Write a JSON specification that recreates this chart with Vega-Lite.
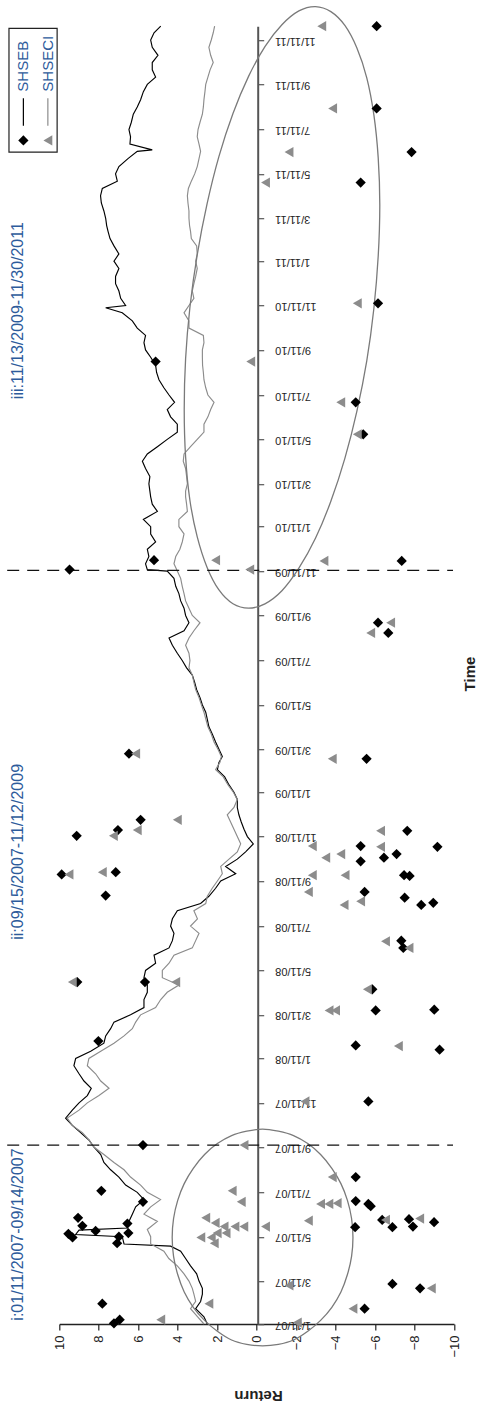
{
"$schema": "https://vega.github.io/schema/vega-lite/v6.json",
"width": 394.7,
"height": 1297.8,
"autosize": {"type": "none"},
"padding": {"left": 59.3, "top": 26.2, "right": 23, "bottom": 86},
"background": "white",
"config": {"view": {"stroke": null}, "axis": {"grid": false, "labelFont": "Liberation Sans", "titleFont": "Liberation Sans"}, "text": {"font": "Liberation Sans"}},
"datasets": {
"lines": [
{"date":"2007-01-11","ret":2.5,"series":"SHSEB"},{"date":"2007-01-21","ret":2.67,"series":"SHSEB"},{"date":"2007-02-01","ret":3.09,"series":"SHSEB"},{"date":"2007-02-11","ret":2.84,"series":"SHSEB"},{"date":"2007-02-21","ret":2.75,"series":"SHSEB"},{"date":"2007-03-01","ret":2.75,"series":"SHSEB"},{"date":"2007-03-11","ret":2.92,"series":"SHSEB"},{"date":"2007-03-21","ret":3.04,"series":"SHSEB"},{"date":"2007-04-01","ret":3.35,"series":"SHSEB"},{"date":"2007-04-11","ret":3.6,"series":"SHSEB"},{"date":"2007-04-21","ret":3.85,"series":"SHSEB"},{"date":"2007-04-28","ret":4.36,"series":"SHSEB"},{"date":"2007-05-01","ret":6.72,"series":"SHSEB"},{"date":"2007-05-11","ret":6.81,"series":"SHSEB"},{"date":"2007-05-14","ret":9.17,"series":"SHSEB"},{"date":"2007-05-20","ret":9.0,"series":"SHSEB"},{"date":"2007-05-23","ret":6.55,"series":"SHSEB"},{"date":"2007-06-01","ret":6.47,"series":"SHSEB"},{"date":"2007-06-11","ret":6.3,"series":"SHSEB"},{"date":"2007-06-21","ret":6.13,"series":"SHSEB"},{"date":"2007-07-01","ret":5.71,"series":"SHSEB"},{"date":"2007-07-11","ret":6.05,"series":"SHSEB"},{"date":"2007-07-21","ret":6.64,"series":"SHSEB"},{"date":"2007-08-01","ret":6.98,"series":"SHSEB"},{"date":"2007-08-11","ret":7.4,"series":"SHSEB"},{"date":"2007-08-21","ret":7.74,"series":"SHSEB"},{"date":"2007-09-01","ret":7.9,"series":"SHSEB"},{"date":"2007-09-11","ret":8.24,"series":"SHSEB"},{"date":"2007-09-21","ret":8.5,"series":"SHSEB"},{"date":"2007-10-01","ret":8.92,"series":"SHSEB"},{"date":"2007-10-11","ret":9.34,"series":"SHSEB"},{"date":"2007-10-21","ret":9.68,"series":"SHSEB"},{"date":"2007-11-01","ret":9.34,"series":"SHSEB"},{"date":"2007-11-11","ret":9.0,"series":"SHSEB"},{"date":"2007-11-21","ret":8.58,"series":"SHSEB"},{"date":"2007-12-01","ret":8.38,"series":"SHSEB"},{"date":"2007-12-11","ret":8.75,"series":"SHSEB"},{"date":"2007-12-21","ret":9.0,"series":"SHSEB"},{"date":"2008-01-01","ret":9.26,"series":"SHSEB"},{"date":"2008-01-11","ret":9.17,"series":"SHSEB"},{"date":"2008-01-21","ret":8.41,"series":"SHSEB"},{"date":"2008-02-01","ret":7.74,"series":"SHSEB"},{"date":"2008-02-11","ret":7.65,"series":"SHSEB"},{"date":"2008-02-21","ret":7.4,"series":"SHSEB"},{"date":"2008-03-01","ret":7.23,"series":"SHSEB"},{"date":"2008-03-11","ret":6.39,"series":"SHSEB"},{"date":"2008-03-21","ret":5.71,"series":"SHSEB"},{"date":"2008-04-01","ret":5.71,"series":"SHSEB"},{"date":"2008-04-11","ret":5.54,"series":"SHSEB"},{"date":"2008-04-21","ret":5.54,"series":"SHSEB"},{"date":"2008-05-01","ret":5.71,"series":"SHSEB"},{"date":"2008-05-11","ret":5.63,"series":"SHSEB"},{"date":"2008-05-21","ret":5.12,"series":"SHSEB"},{"date":"2008-06-01","ret":5.2,"series":"SHSEB"},{"date":"2008-06-11","ret":4.44,"series":"SHSEB"},{"date":"2008-06-21","ret":4.27,"series":"SHSEB"},{"date":"2008-07-01","ret":4.19,"series":"SHSEB"},{"date":"2008-07-11","ret":4.36,"series":"SHSEB"},{"date":"2008-07-21","ret":4.27,"series":"SHSEB"},{"date":"2008-08-01","ret":4.02,"series":"SHSEB"},{"date":"2008-08-11","ret":2.84,"series":"SHSEB"},{"date":"2008-08-21","ret":2.42,"series":"SHSEB"},{"date":"2008-09-01","ret":2.08,"series":"SHSEB"},{"date":"2008-09-11","ret":1.82,"series":"SHSEB"},{"date":"2008-09-21","ret":1.06,"series":"SHSEB"},{"date":"2008-10-01","ret":1.57,"series":"SHSEB"},{"date":"2008-10-11","ret":0.98,"series":"SHSEB"},{"date":"2008-10-21","ret":0.56,"series":"SHSEB"},{"date":"2008-11-01","ret":0.17,"series":"SHSEB"},{"date":"2008-11-11","ret":0.47,"series":"SHSEB"},{"date":"2008-11-21","ret":0.64,"series":"SHSEB"},{"date":"2008-12-01","ret":0.78,"series":"SHSEB"},{"date":"2008-12-11","ret":0.9,"series":"SHSEB"},{"date":"2008-12-21","ret":0.98,"series":"SHSEB"},{"date":"2009-01-01","ret":0.98,"series":"SHSEB"},{"date":"2009-01-11","ret":1.15,"series":"SHSEB"},{"date":"2009-01-21","ret":1.4,"series":"SHSEB"},{"date":"2009-02-01","ret":1.62,"series":"SHSEB"},{"date":"2009-02-11","ret":1.99,"series":"SHSEB"},{"date":"2009-02-21","ret":1.91,"series":"SHSEB"},{"date":"2009-03-01","ret":1.74,"series":"SHSEB"},{"date":"2009-03-11","ret":1.91,"series":"SHSEB"},{"date":"2009-03-21","ret":2.08,"series":"SHSEB"},{"date":"2009-04-01","ret":2.25,"series":"SHSEB"},{"date":"2009-04-11","ret":2.42,"series":"SHSEB"},{"date":"2009-04-21","ret":2.5,"series":"SHSEB"},{"date":"2009-05-01","ret":2.58,"series":"SHSEB"},{"date":"2009-05-11","ret":2.75,"series":"SHSEB"},{"date":"2009-05-21","ret":2.87,"series":"SHSEB"},{"date":"2009-06-01","ret":3.04,"series":"SHSEB"},{"date":"2009-06-11","ret":3.14,"series":"SHSEB"},{"date":"2009-06-21","ret":3.26,"series":"SHSEB"},{"date":"2009-07-01","ret":3.55,"series":"SHSEB"},{"date":"2009-07-11","ret":3.77,"series":"SHSEB"},{"date":"2009-07-21","ret":4.02,"series":"SHSEB"},{"date":"2009-08-01","ret":4.27,"series":"SHSEB"},{"date":"2009-08-11","ret":4.44,"series":"SHSEB"},{"date":"2009-08-21","ret":3.68,"series":"SHSEB"},{"date":"2009-09-01","ret":3.43,"series":"SHSEB"},{"date":"2009-09-11","ret":3.6,"series":"SHSEB"},{"date":"2009-09-21","ret":3.68,"series":"SHSEB"},{"date":"2009-10-01","ret":3.85,"series":"SHSEB"},{"date":"2009-10-11","ret":3.94,"series":"SHSEB"},{"date":"2009-10-21","ret":4.1,"series":"SHSEB"},{"date":"2009-11-01","ret":4.19,"series":"SHSEB"},{"date":"2009-11-11","ret":4.53,"series":"SHSEB"},{"date":"2009-11-13","ret":5.54,"series":"SHSEB"},{"date":"2009-11-21","ret":5.63,"series":"SHSEB"},{"date":"2009-12-01","ret":5.46,"series":"SHSEB"},{"date":"2009-12-11","ret":5.54,"series":"SHSEB"},{"date":"2009-12-21","ret":5.12,"series":"SHSEB"},{"date":"2010-01-01","ret":5.37,"series":"SHSEB"},{"date":"2010-01-11","ret":5.37,"series":"SHSEB"},{"date":"2010-01-21","ret":5.74,"series":"SHSEB"},{"date":"2010-02-01","ret":5.03,"series":"SHSEB"},{"date":"2010-02-11","ret":5.29,"series":"SHSEB"},{"date":"2010-02-21","ret":5.37,"series":"SHSEB"},{"date":"2010-03-01","ret":5.41,"series":"SHSEB"},{"date":"2010-03-11","ret":5.46,"series":"SHSEB"},{"date":"2010-03-21","ret":5.41,"series":"SHSEB"},{"date":"2010-04-01","ret":5.63,"series":"SHSEB"},{"date":"2010-04-11","ret":5.79,"series":"SHSEB"},{"date":"2010-04-21","ret":5.54,"series":"SHSEB"},{"date":"2010-05-01","ret":5.03,"series":"SHSEB"},{"date":"2010-05-11","ret":4.53,"series":"SHSEB"},{"date":"2010-05-21","ret":4.02,"series":"SHSEB"},{"date":"2010-06-01","ret":4.02,"series":"SHSEB"},{"date":"2010-06-11","ret":4.36,"series":"SHSEB"},{"date":"2010-06-21","ret":4.53,"series":"SHSEB"},{"date":"2010-07-01","ret":4.16,"series":"SHSEB"},{"date":"2010-07-11","ret":4.44,"series":"SHSEB"},{"date":"2010-07-21","ret":4.7,"series":"SHSEB"},{"date":"2010-08-01","ret":4.95,"series":"SHSEB"},{"date":"2010-08-11","ret":5.07,"series":"SHSEB"},{"date":"2010-08-21","ret":5.12,"series":"SHSEB"},{"date":"2010-09-01","ret":5.37,"series":"SHSEB"},{"date":"2010-09-11","ret":5.63,"series":"SHSEB"},{"date":"2010-09-21","ret":5.71,"series":"SHSEB"},{"date":"2010-10-01","ret":5.63,"series":"SHSEB"},{"date":"2010-10-11","ret":6.05,"series":"SHSEB"},{"date":"2010-10-21","ret":6.3,"series":"SHSEB"},{"date":"2010-11-01","ret":6.81,"series":"SHSEB"},{"date":"2010-11-08","ret":7.65,"series":"SHSEB"},{"date":"2010-11-11","ret":6.64,"series":"SHSEB"},{"date":"2010-11-21","ret":6.89,"series":"SHSEB"},{"date":"2010-12-01","ret":6.98,"series":"SHSEB"},{"date":"2010-12-11","ret":7.15,"series":"SHSEB"},{"date":"2010-12-21","ret":7.15,"series":"SHSEB"},{"date":"2011-01-01","ret":6.98,"series":"SHSEB"},{"date":"2011-01-11","ret":7.23,"series":"SHSEB"},{"date":"2011-01-21","ret":6.98,"series":"SHSEB"},{"date":"2011-02-01","ret":7.23,"series":"SHSEB"},{"date":"2011-02-11","ret":7.43,"series":"SHSEB"},{"date":"2011-02-21","ret":7.53,"series":"SHSEB"},{"date":"2011-03-01","ret":7.6,"series":"SHSEB"},{"date":"2011-03-11","ret":7.65,"series":"SHSEB"},{"date":"2011-03-21","ret":7.74,"series":"SHSEB"},{"date":"2011-04-01","ret":7.87,"series":"SHSEB"},{"date":"2011-04-11","ret":7.91,"series":"SHSEB"},{"date":"2011-04-21","ret":7.82,"series":"SHSEB"},{"date":"2011-05-01","ret":7.06,"series":"SHSEB"},{"date":"2011-05-11","ret":7.15,"series":"SHSEB"},{"date":"2011-05-21","ret":6.98,"series":"SHSEB"},{"date":"2011-06-01","ret":6.52,"series":"SHSEB"},{"date":"2011-06-11","ret":6.05,"series":"SHSEB"},{"date":"2011-06-13","ret":5.29,"series":"SHSEB"},{"date":"2011-06-21","ret":6.42,"series":"SHSEB"},{"date":"2011-07-01","ret":6.39,"series":"SHSEB"},{"date":"2011-07-11","ret":6.47,"series":"SHSEB"},{"date":"2011-07-21","ret":6.35,"series":"SHSEB"},{"date":"2011-08-01","ret":6.25,"series":"SHSEB"},{"date":"2011-08-11","ret":6.05,"series":"SHSEB"},{"date":"2011-08-21","ret":5.88,"series":"SHSEB"},{"date":"2011-09-01","ret":5.74,"series":"SHSEB"},{"date":"2011-09-11","ret":5.54,"series":"SHSEB"},{"date":"2011-09-21","ret":5.12,"series":"SHSEB"},{"date":"2011-10-01","ret":5.29,"series":"SHSEB"},{"date":"2011-10-11","ret":5.29,"series":"SHSEB"},{"date":"2011-10-21","ret":5.0,"series":"SHSEB"},{"date":"2011-11-01","ret":5.29,"series":"SHSEB"},{"date":"2011-11-11","ret":5.37,"series":"SHSEB"},{"date":"2011-11-21","ret":5.2,"series":"SHSEB"},{"date":"2011-11-30","ret":4.86,"series":"SHSEB"},
{"date":"2007-01-11","ret":2.67,"series":"SHSECI"},{"date":"2007-01-21","ret":3.0,"series":"SHSECI"},{"date":"2007-02-01","ret":3.35,"series":"SHSECI"},{"date":"2007-02-11","ret":3.09,"series":"SHSECI"},{"date":"2007-02-21","ret":3.18,"series":"SHSECI"},{"date":"2007-03-01","ret":3.26,"series":"SHSECI"},{"date":"2007-03-11","ret":3.43,"series":"SHSECI"},{"date":"2007-03-21","ret":3.68,"series":"SHSECI"},{"date":"2007-04-01","ret":4.02,"series":"SHSECI"},{"date":"2007-04-11","ret":4.45,"series":"SHSECI"},{"date":"2007-04-21","ret":4.7,"series":"SHSECI"},{"date":"2007-05-01","ret":5.37,"series":"SHSECI"},{"date":"2007-05-11","ret":5.37,"series":"SHSECI"},{"date":"2007-05-21","ret":5.54,"series":"SHSECI"},{"date":"2007-06-01","ret":5.03,"series":"SHSECI"},{"date":"2007-06-11","ret":5.71,"series":"SHSECI"},{"date":"2007-06-21","ret":5.37,"series":"SHSECI"},{"date":"2007-07-01","ret":4.87,"series":"SHSECI"},{"date":"2007-07-11","ret":5.54,"series":"SHSECI"},{"date":"2007-07-21","ret":5.88,"series":"SHSECI"},{"date":"2007-08-01","ret":6.39,"series":"SHSECI"},{"date":"2007-08-11","ret":6.72,"series":"SHSECI"},{"date":"2007-08-21","ret":7.23,"series":"SHSECI"},{"date":"2007-09-01","ret":7.74,"series":"SHSECI"},{"date":"2007-09-11","ret":8.24,"series":"SHSECI"},{"date":"2007-09-21","ret":8.5,"series":"SHSECI"},{"date":"2007-10-01","ret":8.83,"series":"SHSECI"},{"date":"2007-10-11","ret":9.34,"series":"SHSECI"},{"date":"2007-10-21","ret":9.6,"series":"SHSECI"},{"date":"2007-11-01","ret":9.0,"series":"SHSECI"},{"date":"2007-11-11","ret":8.58,"series":"SHSECI"},{"date":"2007-11-21","ret":7.99,"series":"SHSECI"},{"date":"2007-12-01","ret":7.48,"series":"SHSECI"},{"date":"2007-12-11","ret":7.9,"series":"SHSECI"},{"date":"2007-12-21","ret":8.16,"series":"SHSECI"},{"date":"2008-01-01","ret":8.58,"series":"SHSECI"},{"date":"2008-01-11","ret":8.5,"series":"SHSECI"},{"date":"2008-01-21","ret":7.9,"series":"SHSECI"},{"date":"2008-02-01","ret":7.23,"series":"SHSECI"},{"date":"2008-02-11","ret":6.72,"series":"SHSECI"},{"date":"2008-02-21","ret":6.3,"series":"SHSECI"},{"date":"2008-03-01","ret":6.13,"series":"SHSECI"},{"date":"2008-03-11","ret":5.88,"series":"SHSECI"},{"date":"2008-03-21","ret":5.12,"series":"SHSECI"},{"date":"2008-04-01","ret":4.86,"series":"SHSECI"},{"date":"2008-04-11","ret":4.53,"series":"SHSECI"},{"date":"2008-04-21","ret":3.94,"series":"SHSECI"},{"date":"2008-05-01","ret":4.78,"series":"SHSECI"},{"date":"2008-05-11","ret":4.78,"series":"SHSECI"},{"date":"2008-05-21","ret":4.44,"series":"SHSECI"},{"date":"2008-06-01","ret":4.19,"series":"SHSECI"},{"date":"2008-06-11","ret":3.26,"series":"SHSECI"},{"date":"2008-06-21","ret":3.09,"series":"SHSECI"},{"date":"2008-07-01","ret":2.92,"series":"SHSECI"},{"date":"2008-07-11","ret":3.35,"series":"SHSECI"},{"date":"2008-07-21","ret":3.0,"series":"SHSECI"},{"date":"2008-08-01","ret":3.18,"series":"SHSECI"},{"date":"2008-08-11","ret":2.58,"series":"SHSECI"},{"date":"2008-08-21","ret":2.5,"series":"SHSECI"},{"date":"2008-09-01","ret":2.25,"series":"SHSECI"},{"date":"2008-09-11","ret":1.99,"series":"SHSECI"},{"date":"2008-09-21","ret":1.74,"series":"SHSECI"},{"date":"2008-10-01","ret":1.82,"series":"SHSECI"},{"date":"2008-10-11","ret":1.4,"series":"SHSECI"},{"date":"2008-10-21","ret":0.98,"series":"SHSECI"},{"date":"2008-11-01","ret":0.81,"series":"SHSECI"},{"date":"2008-11-11","ret":0.98,"series":"SHSECI"},{"date":"2008-11-21","ret":1.15,"series":"SHSECI"},{"date":"2008-12-01","ret":1.32,"series":"SHSECI"},{"date":"2008-12-11","ret":1.49,"series":"SHSECI"},{"date":"2008-12-21","ret":1.15,"series":"SHSECI"},{"date":"2009-01-01","ret":0.98,"series":"SHSECI"},{"date":"2009-01-11","ret":1.18,"series":"SHSECI"},{"date":"2009-01-21","ret":1.45,"series":"SHSECI"},{"date":"2009-02-01","ret":1.69,"series":"SHSECI"},{"date":"2009-02-11","ret":2.08,"series":"SHSECI"},{"date":"2009-02-21","ret":1.86,"series":"SHSECI"},{"date":"2009-03-01","ret":1.79,"series":"SHSECI"},{"date":"2009-03-11","ret":1.96,"series":"SHSECI"},{"date":"2009-03-21","ret":2.16,"series":"SHSECI"},{"date":"2009-04-01","ret":2.3,"series":"SHSECI"},{"date":"2009-04-11","ret":2.47,"series":"SHSECI"},{"date":"2009-04-21","ret":2.57,"series":"SHSECI"},{"date":"2009-05-01","ret":2.67,"series":"SHSECI"},{"date":"2009-05-11","ret":2.8,"series":"SHSECI"},{"date":"2009-05-21","ret":2.92,"series":"SHSECI"},{"date":"2009-06-01","ret":3.09,"series":"SHSECI"},{"date":"2009-06-11","ret":3.18,"series":"SHSECI"},{"date":"2009-06-21","ret":3.26,"series":"SHSECI"},{"date":"2009-07-01","ret":3.43,"series":"SHSECI"},{"date":"2009-07-11","ret":3.38,"series":"SHSECI"},{"date":"2009-07-21","ret":3.43,"series":"SHSECI"},{"date":"2009-08-01","ret":3.6,"series":"SHSECI"},{"date":"2009-08-11","ret":3.43,"series":"SHSECI"},{"date":"2009-08-21","ret":3.18,"series":"SHSECI"},{"date":"2009-09-01","ret":2.87,"series":"SHSECI"},{"date":"2009-09-11","ret":3.26,"series":"SHSECI"},{"date":"2009-09-21","ret":3.43,"series":"SHSECI"},{"date":"2009-10-01","ret":3.6,"series":"SHSECI"},{"date":"2009-10-11","ret":3.68,"series":"SHSECI"},{"date":"2009-10-21","ret":3.77,"series":"SHSECI"},{"date":"2009-11-01","ret":3.85,"series":"SHSECI"},{"date":"2009-11-11","ret":4.02,"series":"SHSECI"},{"date":"2009-11-21","ret":4.19,"series":"SHSECI"},{"date":"2009-12-01","ret":4.1,"series":"SHSECI"},{"date":"2009-12-11","ret":3.89,"series":"SHSECI"},{"date":"2009-12-21","ret":3.77,"series":"SHSECI"},{"date":"2010-01-01","ret":3.68,"series":"SHSECI"},{"date":"2010-01-11","ret":3.94,"series":"SHSECI"},{"date":"2010-01-21","ret":3.94,"series":"SHSECI"},{"date":"2010-02-01","ret":3.51,"series":"SHSECI"},{"date":"2010-02-11","ret":3.55,"series":"SHSECI"},{"date":"2010-02-21","ret":3.6,"series":"SHSECI"},{"date":"2010-03-01","ret":3.6,"series":"SHSECI"},{"date":"2010-03-11","ret":3.51,"series":"SHSECI"},{"date":"2010-03-21","ret":3.55,"series":"SHSECI"},{"date":"2010-04-01","ret":3.6,"series":"SHSECI"},{"date":"2010-04-11","ret":3.72,"series":"SHSECI"},{"date":"2010-04-21","ret":3.68,"series":"SHSECI"},{"date":"2010-05-01","ret":3.35,"series":"SHSECI"},{"date":"2010-05-11","ret":3.01,"series":"SHSECI"},{"date":"2010-05-21","ret":2.67,"series":"SHSECI"},{"date":"2010-06-01","ret":2.67,"series":"SHSECI"},{"date":"2010-06-11","ret":2.47,"series":"SHSECI"},{"date":"2010-06-21","ret":2.33,"series":"SHSECI"},{"date":"2010-07-01","ret":2.16,"series":"SHSECI"},{"date":"2010-07-11","ret":2.47,"series":"SHSECI"},{"date":"2010-07-21","ret":2.58,"series":"SHSECI"},{"date":"2010-08-01","ret":2.67,"series":"SHSECI"},{"date":"2010-08-11","ret":2.7,"series":"SHSECI"},{"date":"2010-08-21","ret":2.74,"series":"SHSECI"},{"date":"2010-09-01","ret":2.75,"series":"SHSECI"},{"date":"2010-09-11","ret":2.75,"series":"SHSECI"},{"date":"2010-09-21","ret":2.67,"series":"SHSECI"},{"date":"2010-10-01","ret":2.7,"series":"SHSECI"},{"date":"2010-10-11","ret":3.43,"series":"SHSECI"},{"date":"2010-10-21","ret":3.43,"series":"SHSECI"},{"date":"2010-11-01","ret":3.68,"series":"SHSECI"},{"date":"2010-11-11","ret":3.43,"series":"SHSECI"},{"date":"2010-11-21","ret":3.18,"series":"SHSECI"},{"date":"2010-12-01","ret":3.26,"series":"SHSECI"},{"date":"2010-12-11","ret":3.18,"series":"SHSECI"},{"date":"2010-12-21","ret":3.09,"series":"SHSECI"},{"date":"2011-01-01","ret":3.01,"series":"SHSECI"},{"date":"2011-01-11","ret":3.09,"series":"SHSECI"},{"date":"2011-01-21","ret":3.01,"series":"SHSECI"},{"date":"2011-02-01","ret":3.04,"series":"SHSECI"},{"date":"2011-02-11","ret":3.31,"series":"SHSECI"},{"date":"2011-02-21","ret":3.35,"series":"SHSECI"},{"date":"2011-03-01","ret":3.4,"series":"SHSECI"},{"date":"2011-03-11","ret":3.43,"series":"SHSECI"},{"date":"2011-03-21","ret":3.43,"series":"SHSECI"},{"date":"2011-04-01","ret":3.48,"series":"SHSECI"},{"date":"2011-04-11","ret":3.51,"series":"SHSECI"},{"date":"2011-04-21","ret":3.46,"series":"SHSECI"},{"date":"2011-05-01","ret":3.31,"series":"SHSECI"},{"date":"2011-05-11","ret":3.14,"series":"SHSECI"},{"date":"2011-05-21","ret":3.01,"series":"SHSECI"},{"date":"2011-06-01","ret":2.92,"series":"SHSECI"},{"date":"2011-06-11","ret":2.84,"series":"SHSECI"},{"date":"2011-06-21","ret":2.92,"series":"SHSECI"},{"date":"2011-07-01","ret":3.01,"series":"SHSECI"},{"date":"2011-07-11","ret":2.97,"series":"SHSECI"},{"date":"2011-07-21","ret":2.87,"series":"SHSECI"},{"date":"2011-08-01","ret":2.75,"series":"SHSECI"},{"date":"2011-08-11","ret":2.7,"series":"SHSECI"},{"date":"2011-08-21","ret":2.67,"series":"SHSECI"},{"date":"2011-09-01","ret":2.62,"series":"SHSECI"},{"date":"2011-09-11","ret":2.58,"series":"SHSECI"},{"date":"2011-09-21","ret":2.47,"series":"SHSECI"},{"date":"2011-10-01","ret":2.36,"series":"SHSECI"},{"date":"2011-10-11","ret":2.2,"series":"SHSECI"},{"date":"2011-10-21","ret":2.33,"series":"SHSECI"},{"date":"2011-11-01","ret":2.42,"series":"SHSECI"},{"date":"2011-11-11","ret":2.3,"series":"SHSECI"},{"date":"2011-11-21","ret":2.2,"series":"SHSECI"},{"date":"2011-11-30","ret":2.13,"series":"SHSECI"}
],
"points": [
{"date":"2011-11-30","ret":-6.08,"series":"SHSEB"},{"date":"2011-08-09","ret":-6.08,"series":"SHSEB"},{"date":"2011-06-10","ret":-7.85,"series":"SHSEB"},{"date":"2011-04-29","ret":-5.27,"series":"SHSEB"},{"date":"2010-11-14","ret":-6.15,"series":"SHSEB"},{"date":"2010-08-26","ret":5.12,"series":"SHSEB"},{"date":"2010-07-01","ret":-5.02,"series":"SHSEB"},{"date":"2010-05-18","ret":-5.4,"series":"SHSEB"},{"date":"2009-11-26","ret":5.2,"series":"SHSEB"},{"date":"2009-11-25","ret":-7.35,"series":"SHSEB"},{"date":"2009-11-13","ret":9.48,"series":"SHSEB"},{"date":"2009-09-01","ret":-6.15,"series":"SHSEB"},{"date":"2009-08-18","ret":-6.67,"series":"SHSEB"},{"date":"2009-03-05","ret":6.47,"series":"SHSEB"},{"date":"2009-02-26","ret":-5.57,"series":"SHSEB"},{"date":"2008-12-04","ret":5.88,"series":"SHSEB"},{"date":"2008-11-20","ret":7.03,"series":"SHSEB"},{"date":"2008-11-19","ret":-7.63,"series":"SHSEB"},{"date":"2008-11-12","ret":9.12,"series":"SHSEB"},{"date":"2008-10-29","ret":-5.27,"series":"SHSEB"},{"date":"2008-10-28","ret":-9.16,"series":"SHSEB"},{"date":"2008-10-18","ret":-7.09,"series":"SHSEB"},{"date":"2008-10-13","ret":-6.45,"series":"SHSEB"},{"date":"2008-10-08","ret":-5.27,"series":"SHSEB"},{"date":"2008-09-23","ret":7.14,"series":"SHSEB"},{"date":"2008-09-20","ret":9.88,"series":"SHSEB"},{"date":"2008-09-19","ret":-7.47,"series":"SHSEB"},{"date":"2008-09-18","ret":-7.75,"series":"SHSEB"},{"date":"2008-08-22","ret":7.65,"series":"SHSEB"},{"date":"2008-08-27","ret":-5.47,"series":"SHSEB"},{"date":"2008-08-19","ret":-7.5,"series":"SHSEB"},{"date":"2008-08-09","ret":-8.34,"series":"SHSEB"},{"date":"2008-08-12","ret":-8.95,"series":"SHSEB"},{"date":"2008-06-21","ret":-7.33,"series":"SHSEB"},{"date":"2008-06-11","ret":-7.43,"series":"SHSEB"},{"date":"2008-04-25","ret":9.09,"series":"SHSEB"},{"date":"2008-04-25","ret":5.66,"series":"SHSEB"},{"date":"2008-04-15","ret":-5.86,"series":"SHSEB"},{"date":"2008-03-17","ret":-6.03,"series":"SHSEB"},{"date":"2008-03-18","ret":-9.0,"series":"SHSEB"},{"date":"2008-02-04","ret":8.02,"series":"SHSEB"},{"date":"2008-01-29","ret":-5.02,"series":"SHSEB"},{"date":"2008-01-23","ret":-9.27,"series":"SHSEB"},{"date":"2007-11-13","ret":-5.66,"series":"SHSEB"},{"date":"2007-09-14","ret":5.76,"series":"SHSEB"},{"date":"2007-08-01","ret":-5.02,"series":"SHSEB"},{"date":"2007-07-13","ret":7.87,"series":"SHSEB"},{"date":"2007-06-28","ret":5.76,"series":"SHSEB"},{"date":"2007-06-29","ret":-5.02,"series":"SHSEB"},{"date":"2007-06-25","ret":-5.66,"series":"SHSEB"},{"date":"2007-06-22","ret":-5.78,"series":"SHSEB"},{"date":"2007-06-06","ret":9.05,"series":"SHSEB"},{"date":"2007-06-03","ret":-6.36,"series":"SHSEB"},{"date":"2007-06-04","ret":-7.72,"series":"SHSEB"},{"date":"2007-05-31","ret":-8.99,"series":"SHSEB"},{"date":"2007-05-25","ret":-7.92,"series":"SHSEB"},{"date":"2007-05-24","ret":-6.88,"series":"SHSEB"},{"date":"2007-05-24","ret":-4.99,"series":"SHSEB"},{"date":"2007-05-26","ret":8.83,"series":"SHSEB"},{"date":"2007-05-29","ret":6.55,"series":"SHSEB"},{"date":"2007-05-19","ret":8.16,"series":"SHSEB"},{"date":"2007-05-16","ret":6.5,"series":"SHSEB"},{"date":"2007-05-15","ret":9.54,"series":"SHSEB"},{"date":"2007-05-10","ret":9.33,"series":"SHSEB"},{"date":"2007-05-11","ret":6.98,"series":"SHSEB"},{"date":"2007-05-02","ret":7.07,"series":"SHSEB"},{"date":"2007-02-08","ret":7.82,"series":"SHSEB"},{"date":"2007-01-12","ret":7.23,"series":"SHSEB"},{"date":"2007-01-17","ret":6.94,"series":"SHSEB"},{"date":"2007-02-01","ret":-5.47,"series":"SHSEB"},{"date":"2007-03-07","ret":-6.88,"series":"SHSEB"},{"date":"2007-03-01","ret":-8.28,"series":"SHSEB"},
{"date":"2011-11-30","ret":-3.3,"series":"SHSECI"},{"date":"2011-08-09","ret":-3.85,"series":"SHSECI"},{"date":"2011-06-10","ret":-1.64,"series":"SHSECI"},{"date":"2011-04-29","ret":-0.45,"series":"SHSECI"},{"date":"2010-11-14","ret":-5.1,"series":"SHSECI"},{"date":"2010-08-26","ret":0.3,"series":"SHSECI"},{"date":"2010-07-01","ret":-4.26,"series":"SHSECI"},{"date":"2010-05-18","ret":-5.1,"series":"SHSECI"},{"date":"2009-11-26","ret":2.08,"series":"SHSECI"},{"date":"2009-11-25","ret":-3.41,"series":"SHSECI"},{"date":"2009-11-13","ret":0.35,"series":"SHSECI"},{"date":"2009-09-01","ret":-6.79,"series":"SHSECI"},{"date":"2009-08-18","ret":-5.78,"series":"SHSECI"},{"date":"2009-03-05","ret":6.13,"series":"SHSECI"},{"date":"2009-02-26","ret":-3.83,"series":"SHSECI"},{"date":"2008-12-04","ret":4.02,"series":"SHSECI"},{"date":"2008-11-20","ret":6.05,"series":"SHSECI"},{"date":"2008-11-19","ret":-6.28,"series":"SHSECI"},{"date":"2008-11-12","ret":7.26,"series":"SHSECI"},{"date":"2008-10-29","ret":-2.82,"series":"SHSECI"},{"date":"2008-10-28","ret":-6.28,"series":"SHSECI"},{"date":"2008-10-18","ret":-4.26,"series":"SHSECI"},{"date":"2008-10-13","ret":-3.5,"series":"SHSECI"},{"date":"2008-09-23","ret":7.82,"series":"SHSECI"},{"date":"2008-09-20","ret":9.51,"series":"SHSECI"},{"date":"2008-09-19","ret":-2.82,"series":"SHSECI"},{"date":"2008-09-19","ret":-4.48,"series":"SHSECI"},{"date":"2008-08-27","ret":-2.62,"series":"SHSECI"},{"date":"2008-08-14","ret":-5.27,"series":"SHSECI"},{"date":"2008-08-09","ret":-4.43,"series":"SHSECI"},{"date":"2008-06-20","ret":-6.53,"series":"SHSECI"},{"date":"2008-06-11","ret":-7.72,"series":"SHSECI"},{"date":"2008-04-25","ret":9.34,"series":"SHSECI"},{"date":"2008-04-25","ret":4.1,"series":"SHSECI"},{"date":"2008-04-15","ret":-5.61,"series":"SHSECI"},{"date":"2008-03-17","ret":-3.67,"series":"SHSECI"},{"date":"2008-03-17","ret":-4.0,"series":"SHSECI"},{"date":"2008-01-28","ret":-7.18,"series":"SHSECI"},{"date":"2007-11-13","ret":-2.45,"series":"SHSECI"},{"date":"2007-09-14","ret":0.64,"series":"SHSECI"},{"date":"2007-08-01","ret":-3.83,"series":"SHSECI"},{"date":"2007-07-13","ret":1.24,"series":"SHSECI"},{"date":"2007-06-28","ret":0.78,"series":"SHSECI"},{"date":"2007-06-25","ret":-3.24,"series":"SHSECI"},{"date":"2007-06-25","ret":-3.66,"series":"SHSECI"},{"date":"2007-06-26","ret":-4.08,"series":"SHSECI"},{"date":"2007-06-06","ret":2.58,"series":"SHSECI"},{"date":"2007-06-02","ret":-2.62,"series":"SHSECI"},{"date":"2007-06-03","ret":-6.53,"series":"SHSECI"},{"date":"2007-06-05","ret":-8.26,"series":"SHSECI"},{"date":"2007-05-30","ret":2.1,"series":"SHSECI"},{"date":"2007-05-25","ret":1.65,"series":"SHSECI"},{"date":"2007-05-25","ret":1.1,"series":"SHSECI"},{"date":"2007-05-25","ret":0.65,"series":"SHSECI"},{"date":"2007-05-25","ret":-0.45,"series":"SHSECI"},{"date":"2007-05-16","ret":2.0,"series":"SHSECI"},{"date":"2007-05-16","ret":1.55,"series":"SHSECI"},{"date":"2007-05-10","ret":2.83,"series":"SHSECI"},{"date":"2007-05-10","ret":2.3,"series":"SHSECI"},{"date":"2007-05-02","ret":2.15,"series":"SHSECI"},{"date":"2007-01-17","ret":4.86,"series":"SHSECI"},{"date":"2007-02-08","ret":2.42,"series":"SHSECI"},{"date":"2007-03-05","ret":-1.64,"series":"SHSECI"},{"date":"2007-02-01","ret":-4.88,"series":"SHSECI"},{"date":"2007-03-01","ret":-8.85,"series":"SHSECI"},{"date":"2007-01-13","ret":-2.06,"series":"SHSECI"}
],
"ellipses": [
{"id":1,"k":0,"date":"2007-05-10","ret":4.28},{"id":1,"k":1,"date":"2007-06-05","ret":4.21},{"id":1,"k":2,"date":"2007-06-30","ret":4.0},{"id":1,"k":3,"date":"2007-07-23","ret":3.67},{"id":1,"k":4,"date":"2007-08-13","ret":3.21},{"id":1,"k":5,"date":"2007-09-01","ret":2.64},{"id":1,"k":6,"date":"2007-09-16","ret":1.99},{"id":1,"k":7,"date":"2007-09-27","ret":1.27},{"id":1,"k":8,"date":"2007-10-03","ret":0.5},{"id":1,"k":9,"date":"2007-10-06","ret":-0.3},{"id":1,"k":10,"date":"2007-10-03","ret":-1.1},{"id":1,"k":11,"date":"2007-09-27","ret":-1.87},{"id":1,"k":12,"date":"2007-09-16","ret":-2.59},{"id":1,"k":13,"date":"2007-09-01","ret":-3.24},{"id":1,"k":14,"date":"2007-08-13","ret":-3.81},{"id":1,"k":15,"date":"2007-07-23","ret":-4.27},{"id":1,"k":16,"date":"2007-06-30","ret":-4.6},{"id":1,"k":17,"date":"2007-06-05","ret":-4.81},{"id":1,"k":18,"date":"2007-05-10","ret":-4.88},{"id":1,"k":19,"date":"2007-04-14","ret":-4.81},{"id":1,"k":20,"date":"2007-03-20","ret":-4.6},{"id":1,"k":21,"date":"2007-02-24","ret":-4.27},{"id":1,"k":22,"date":"2007-02-03","ret":-3.81},{"id":1,"k":23,"date":"2007-01-16","ret":-3.24},{"id":1,"k":24,"date":"2007-01-01","ret":-2.59},{"id":1,"k":25,"date":"2006-12-20","ret":-1.87},{"id":1,"k":26,"date":"2006-12-14","ret":-1.1},{"id":1,"k":27,"date":"2006-12-12","ret":-0.3},{"id":1,"k":28,"date":"2006-12-14","ret":0.5},{"id":1,"k":29,"date":"2006-12-20","ret":1.27},{"id":1,"k":30,"date":"2007-01-01","ret":1.99},{"id":1,"k":31,"date":"2007-01-16","ret":2.64},{"id":1,"k":32,"date":"2007-02-03","ret":3.21},{"id":1,"k":33,"date":"2007-02-24","ret":3.67},{"id":1,"k":34,"date":"2007-03-20","ret":4.0},{"id":1,"k":35,"date":"2007-04-14","ret":4.21},
{"id":2,"k":0,"date":"2011-03-29","ret":-6.24},{"id":2,"k":1,"date":"2011-01-18","ret":-6.16},{"id":2,"k":2,"date":"2010-11-07","ret":-5.94},{"id":2,"k":3,"date":"2010-08-27","ret":-5.58},{"id":2,"k":4,"date":"2010-06-19","ret":-5.08},{"id":2,"k":5,"date":"2010-04-15","ret":-4.47},{"id":2,"k":6,"date":"2010-02-15","ret":-3.76},{"id":2,"k":7,"date":"2009-12-26","ret":-2.98},{"id":2,"k":8,"date":"2009-11-15","ret":-2.14},{"id":2,"k":9,"date":"2009-10-15","ret":-1.28},{"id":2,"k":10,"date":"2009-09-27","ret":-0.42},{"id":2,"k":11,"date":"2009-09-21","ret":0.41},{"id":2,"k":12,"date":"2009-09-27","ret":1.2},{"id":2,"k":13,"date":"2009-10-16","ret":1.91},{"id":2,"k":14,"date":"2009-11-16","ret":2.51},{"id":2,"k":15,"date":"2009-12-28","ret":3.01},{"id":2,"k":16,"date":"2010-02-16","ret":3.38},{"id":2,"k":17,"date":"2010-04-17","ret":3.6},{"id":2,"k":18,"date":"2010-06-21","ret":3.67},{"id":2,"k":19,"date":"2010-08-30","ret":3.6},{"id":2,"k":20,"date":"2010-11-09","ret":3.38},{"id":2,"k":21,"date":"2011-01-20","ret":3.01},{"id":2,"k":22,"date":"2011-03-31","ret":2.51},{"id":2,"k":23,"date":"2011-06-04","ret":1.91},{"id":2,"k":24,"date":"2011-08-02","ret":1.2},{"id":2,"k":25,"date":"2011-09-22","ret":0.41},{"id":2,"k":26,"date":"2011-11-02","ret":-0.42},{"id":2,"k":27,"date":"2011-12-02","ret":-1.28},{"id":2,"k":28,"date":"2011-12-21","ret":-2.14},{"id":2,"k":29,"date":"2011-12-27","ret":-2.98},{"id":2,"k":30,"date":"2011-12-20","ret":-3.76},{"id":2,"k":31,"date":"2011-12-01","ret":-4.47},{"id":2,"k":32,"date":"2011-10-31","ret":-5.08},{"id":2,"k":33,"date":"2011-09-20","ret":-5.58},{"id":2,"k":34,"date":"2011-07-31","ret":-5.94},{"id":2,"k":35,"date":"2011-06-02","ret":-6.16}
],
"breaks": [{"date":"2007-09-14","ret":12.64,"ret2":-9.95},{"date":"2009-11-12","ret":12.64,"ret2":-9.95}],
"periods": [{"date":"2007-05-14","ret":12.07,"label":"i:01/11/2007-09/14/2007"},{"date":"2008-10-21","ret":12.1,"label":"ii:09/15/2007-11/12/2009"},{"date":"2010-11-04","ret":12.1,"label":"iii:11/13/2009-11/30/2011"}],
"legendbox": [{"ret":12.55,"ret2":10.11,"date":"2011-11-27","date2":"2011-06-10"}],
"legendlines": [{"series":"SHSEB","ret":11.82,"date":"2011-08-23","date2":"2011-07-16"},{"series":"SHSECI","ret":10.58,"date":"2011-08-23","date2":"2011-07-16"}],
"legendsyms": [{"series":"SHSEB","ret":11.82,"date":"2011-06-26"},{"series":"SHSECI","ret":10.58,"date":"2011-06-26"}],
"legendtext": [{"series":"SHSEB","ret":11.82,"date":"2011-09-01"},{"series":"SHSECI","ret":10.58,"date":"2011-09-01"}]
},
"encoding": {
"x": {"field": "ret", "type": "quantitative",
  "scale": {"domain": [-10, 10], "reverse": true, "nice": false, "zero": false},
  "axis": {"orient": "bottom", "values": [-10,-8,-6,-4,-2,0,2,4,6,8,10], "labelAngle": 270, "labelAlign": "right", "labelBaseline": "middle", "labelFontSize": 13, "labelColor": "#222", "labelPadding": 5, "labelFlush": false, "labelOverlap": false, "tickSize": 6, "tickColor": "#222", "tickWidth": 1.2, "domainColor": "#222", "domainWidth": 1.3, "title": "Return", "titleAngle": 180, "titleFontSize": 15, "titleFontWeight": "bold", "titleColor": "#222", "titleX": 198.7, "titleY": 71, "titleAlign": "center", "titleBaseline": "middle"}},
"y": {"field": "date", "type": "temporal",
  "scale": {"type": "utc", "domain": [{"year":2007,"month":1,"date":11,"utc":true},{"year":2011,"month":11,"date":30,"utc":true}], "nice": false},
  "axis": {"orient": "right", "offset": -196.3, "values": [
{"year":2007,"month":1,"date":11,"utc":true},{"year":2007,"month":3,"date":11,"utc":true},{"year":2007,"month":5,"date":11,"utc":true},{"year":2007,"month":7,"date":11,"utc":true},{"year":2007,"month":9,"date":11,"utc":true},{"year":2007,"month":11,"date":11,"utc":true},
{"year":2008,"month":1,"date":11,"utc":true},{"year":2008,"month":3,"date":11,"utc":true},{"year":2008,"month":5,"date":11,"utc":true},{"year":2008,"month":7,"date":11,"utc":true},{"year":2008,"month":9,"date":11,"utc":true},{"year":2008,"month":11,"date":11,"utc":true},
{"year":2009,"month":1,"date":11,"utc":true},{"year":2009,"month":3,"date":11,"utc":true},{"year":2009,"month":5,"date":11,"utc":true},{"year":2009,"month":7,"date":11,"utc":true},{"year":2009,"month":9,"date":11,"utc":true},{"year":2009,"month":11,"date":11,"utc":true},
{"year":2010,"month":1,"date":11,"utc":true},{"year":2010,"month":3,"date":11,"utc":true},{"year":2010,"month":5,"date":11,"utc":true},{"year":2010,"month":7,"date":11,"utc":true},{"year":2010,"month":9,"date":11,"utc":true},{"year":2010,"month":11,"date":11,"utc":true},
{"year":2011,"month":1,"date":11,"utc":true},{"year":2011,"month":3,"date":11,"utc":true},{"year":2011,"month":5,"date":11,"utc":true},{"year":2011,"month":7,"date":11,"utc":true},{"year":2011,"month":9,"date":11,"utc":true},{"year":2011,"month":11,"date":11,"utc":true}],
  "labelExpr": "utcFormat(datum.value, '%-m/%d/%y')", "labelAngle": 180, "labelAlign": "right", "labelBaseline": "middle", "labelFontSize": 11, "labelColor": "#222", "labelPadding": 11, "labelFlush": false, "labelOverlap": false, "tickSize": 6, "tickColor": "#555", "tickWidth": 1.2, "domainColor": "#555", "domainWidth": 2, "title": "Time", "titleAngle": 270, "titleFontSize": 15, "titleFontWeight": "bold", "titleColor": "#222", "titleX": 211.8, "titleY": 647.3, "titleAlign": "center", "titleBaseline": "middle"}}
},
"layer": [
{"data": {"name": "lines"}, "mark": {"type": "line", "strokeWidth": 1.15},
 "encoding": {"color": {"field": "series", "type": "nominal", "scale": {"domain": ["SHSEB","SHSECI"], "range": ["#000000","#8c8c8c"]}, "legend": null}}},
{"data": {"name": "ellipses"}, "mark": {"type": "line", "interpolate": "cardinal-closed", "stroke": "#7a7a7a", "strokeWidth": 1.3},
 "encoding": {"detail": {"field": "id", "type": "nominal"}, "order": {"field": "k", "type": "quantitative"}}},
{"data": {"name": "breaks"}, "mark": {"type": "rule", "stroke": "#111", "strokeWidth": 1.3, "strokeDash": [12, 8]},
 "encoding": {"x2": {"field": "ret2"}}},
{"data": {"name": "points"}, "mark": {"type": "point", "filled": true, "size": 105, "opacity": 1},
 "encoding": {"shape": {"field": "series", "type": "nominal", "scale": {"domain": ["SHSEB","SHSECI"], "range": ["diamond","triangle-left"]}, "legend": null},
   "color": {"field": "series", "type": "nominal", "scale": {"domain": ["SHSEB","SHSECI"], "range": ["#000000","#8c8c8c"]}, "legend": null}}},
{"data": {"name": "periods"}, "mark": {"type": "text", "angle": 270, "align": "center", "baseline": "middle", "fontSize": 16, "color": "#2d5b9b"},
 "encoding": {"text": {"field": "label"}}},
{"data": {"name": "legendbox"}, "mark": {"type": "rect", "fill": "white", "stroke": "#222", "strokeWidth": 1.2},
 "encoding": {"x2": {"field": "ret2"}, "y2": {"field": "date2"}}},
{"data": {"name": "legendlines"}, "mark": {"type": "rule", "strokeWidth": 1.2},
 "encoding": {"y2": {"field": "date2"}, "color": {"field": "series", "type": "nominal", "legend": null}}},
{"data": {"name": "legendsyms"}, "mark": {"type": "point", "filled": true, "size": 105, "opacity": 1},
 "encoding": {"shape": {"field": "series", "type": "nominal", "legend": null}, "color": {"field": "series", "type": "nominal", "legend": null}}},
{"data": {"name": "legendtext"}, "mark": {"type": "text", "angle": 270, "align": "left", "baseline": "middle", "fontSize": 15, "color": "#2d5b9b"},
 "encoding": {"text": {"field": "series"}}}
]
}
